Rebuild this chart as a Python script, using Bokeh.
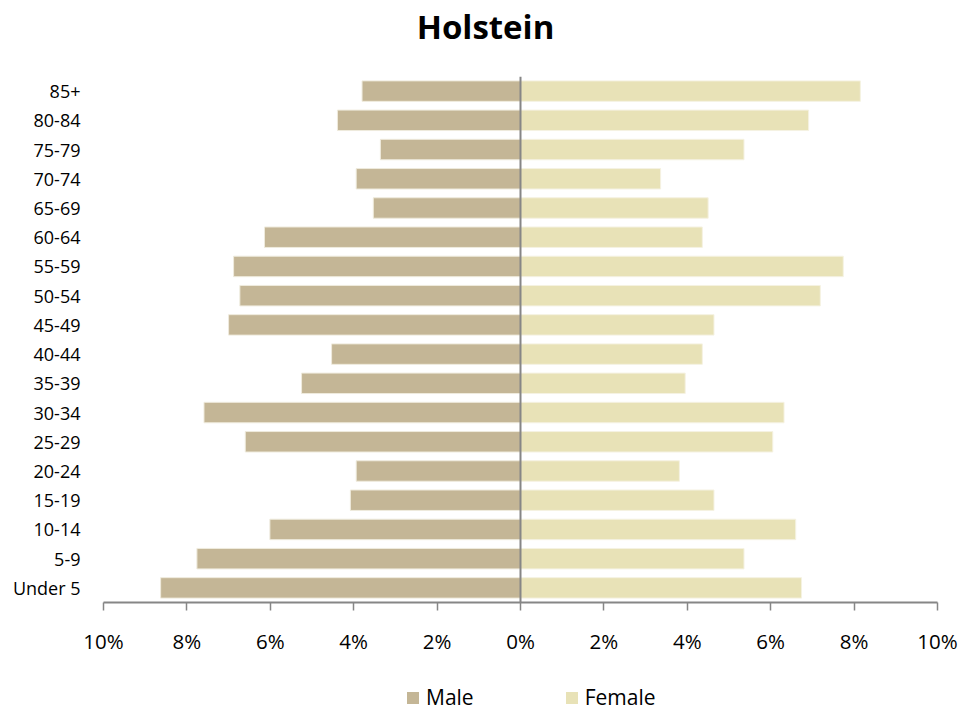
from bokeh.plotting import figure
from bokeh.layouts import column
from bokeh.models import (ColumnDataSource, FactorRange, Span, Legend, LegendItem,
                          FixedTicker, CustomJSTickFormatter, Range1d, Label)
from bokeh.embed import file_html
from bokeh.resources import INLINE

# ---- data (bottom to top) ----
age_groups = ["Under 5", "5-9", "10-14", "15-19", "20-24", "25-29", "30-34", "35-39",
              "40-44", "45-49", "50-54", "55-59", "60-64", "65-69", "70-74", "75-79",
              "80-84", "85+"]
male = [8.63, 7.76, 6.01, 4.08, 3.94, 6.60, 7.59, 5.25, 4.53, 7.00, 6.73, 6.88,
        6.14, 3.53, 3.94, 3.36, 4.39, 3.80]
female = [6.74, 5.36, 6.60, 4.64, 3.81, 6.05, 6.32, 3.95, 4.36, 4.64, 7.19, 7.74,
          4.36, 4.50, 3.36, 5.36, 6.91, 8.15]
x_ticks = [-10, -8, -6, -4, -2, 0, 2, 4, 6, 8, 10]
series_names = ["Male", "Female"]
chart_title = "Holstein"

src = ColumnDataSource(dict(age=age_groups,
                            male_left=[-v for v in male],
                            female=female))

FONT = "Open Sans"
MALE_C = "#C4B696"
FEMALE_C = "#E8E2B7"
AXIS_C = "#868686"
W = 963

# ---- title strip (frames of the column are aligned at x=103) ----
p0 = figure(width=W, height=49, output_backend="svg", toolbar_location=None,
            x_range=Range1d(0, 1), y_range=Range1d(0, 1),
            x_axis_type=None, y_axis_type=None,
            min_border_left=0, min_border_right=0, min_border_top=0,
            min_border_bottom=0)
p0.grid.visible = False
p0.outline_line_color = None
p0.add_layout(Label(x=382, y=23, x_units="screen", y_units="screen",
                    text=chart_title, text_align="center", text_baseline="middle",
                    text_font=FONT, text_font_size="33px", text_font_style="bold",
                    text_color="#000000"))

# ---- main chart ----
p = figure(width=W, height=608, output_backend="svg", toolbar_location=None,
           x_range=(-10, 10), y_range=FactorRange(factors=age_groups),
           min_border_left=103, min_border_right=26, min_border_top=27,
           min_border_bottom=55)

r_m = p.hbar(y="age", left="male_left", right=0, height=0.7, source=src,
             fill_color=MALE_C, line_color="#EFEBDD", line_width=1)
r_f = p.hbar(y="age", left=0, right="female", height=0.7, source=src,
             fill_color=FEMALE_C, line_color="#F5F2E2", line_width=1)

p.add_layout(Span(location=0, dimension="height", line_color=AXIS_C, line_width=2))

p.outline_line_color = None
p.xgrid.grid_line_color = None
p.ygrid.grid_line_color = None

p.xaxis.ticker = FixedTicker(ticks=x_ticks)
p.xaxis.formatter = CustomJSTickFormatter(code="return Math.abs(tick) + '%';")
p.xaxis.axis_line_color = AXIS_C
p.xaxis.axis_line_width = 2
p.xaxis.major_tick_line_color = AXIS_C
p.xaxis.major_tick_line_width = 1.5
p.xaxis.major_tick_out = 8
p.xaxis.major_tick_in = 0
p.xaxis.minor_tick_line_color = None
p.xaxis.major_label_standoff = 16
p.xaxis.major_label_text_font = FONT
p.xaxis.major_label_text_font_size = "20.5px"
p.xaxis.major_label_text_color = "#000000"

p.yaxis.axis_line_color = None
p.yaxis.major_tick_line_color = None
p.yaxis.major_tick_out = 0
p.yaxis.major_tick_in = 0
p.yaxis.major_label_standoff = 23
p.yaxis.major_label_text_font = FONT
p.yaxis.major_label_text_font_size = "18px"
p.yaxis.major_label_text_color = "#000000"

# ---- legend strip below the chart (same series, zero-height rows) ----
p2 = figure(width=W, height=54, output_backend="svg", toolbar_location=None,
            x_range=(-10, 10), y_range=FactorRange(factors=age_groups),
            x_axis_type=None, y_axis_type=None,
            min_border_left=0, min_border_right=0, min_border_top=0,
            min_border_bottom=0)
p2.grid.visible = False
p2.outline_line_color = None
lm = p2.hbar(y="age", left="male_left", right=0, height=0, source=src,
             fill_color=MALE_C, line_color=None)
lf = p2.hbar(y="age", left=0, right="female", height=0, source=src,
             fill_color=FEMALE_C, line_color=None)

legend = Legend(items=[LegendItem(label=series_names[0], renderers=[lm]),
                       LegendItem(label=series_names[1], renderers=[lf])],
                orientation="horizontal", location=(302, 0),
                glyph_width=15, glyph_height=15, label_standoff=6, spacing=90,
                label_height=18, padding=0, margin=0, border_line_color=None,
                background_fill_alpha=0, label_text_font=FONT,
                label_text_font_size="21px", label_text_color="#000000")
p2.add_layout(legend, "center")

layout = column(p0, p, p2, spacing=0)

open("out.html", "w").write(file_html(layout, INLINE))
